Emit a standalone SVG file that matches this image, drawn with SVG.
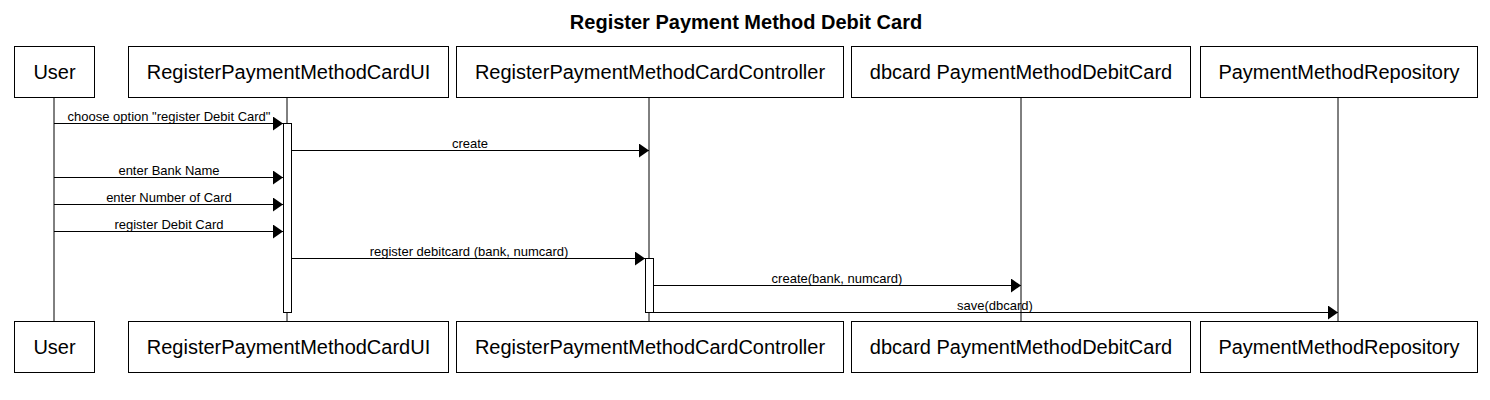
<svg xmlns="http://www.w3.org/2000/svg" width="1490" height="400" viewBox="0 0 1490 400">
<defs>
<marker id="arr" viewBox="0 0 10 14" refX="10" refY="7" markerWidth="10" markerHeight="14" markerUnits="userSpaceOnUse" orient="auto">
<path d="M0,0 L10,7 L0,14 Z" fill="#000"/>
</marker>
</defs>
<style>
.box{fill:#fff;stroke:#000;stroke-width:1}
.bt{font-family:"Liberation Sans",Arial,sans-serif;font-size:20px;text-anchor:middle;fill:#000}
.life{stroke:#000;stroke-width:1;fill:none}
.act{fill:#fff;stroke:#000;stroke-width:1}
.msg{stroke:#000;stroke-width:1;fill:none;marker-end:url(#arr)}
.ml{font-family:"Liberation Sans",Arial,sans-serif;font-size:13px;text-anchor:middle;fill:#000}
.title{font-family:"Liberation Sans",Arial,sans-serif;font-size:20px;font-weight:bold;text-anchor:middle;fill:#000}
</style>
<rect width="1490" height="400" fill="#fff"/>
<text class="title" x="746" y="29">Register Payment Method Debit Card</text>
<g id="lifelines">
<line class="life" x1="54" y1="97" x2="54" y2="321"/>
<line class="life" x1="287" y1="97" x2="287" y2="321"/>
<line class="life" x1="649" y1="97" x2="649" y2="321"/>
<line class="life" x1="1021" y1="97" x2="1021" y2="321"/>
<line class="life" x1="1338" y1="97" x2="1338" y2="321"/>
</g>
<g id="user">
<rect class="box" x="14.5" y="46.5" width="80" height="51"/>
<text class="bt" x="54.5" y="79">User</text>
<rect class="box" x="14.5" y="321.5" width="80" height="51"/>
<text class="bt" x="54.5" y="354">User</text>
</g>
<g id="ui">
<rect class="box" x="128.5" y="46.5" width="320" height="51"/>
<text class="bt" x="288.5" y="79">RegisterPaymentMethodCardUI</text>
<rect class="box" x="128.5" y="321.5" width="320" height="51"/>
<text class="bt" x="288.5" y="354">RegisterPaymentMethodCardUI</text>
<rect class="act" x="283.5" y="123.5" width="8" height="189"/>
</g>
<g id="controller">
<rect class="box" x="456.5" y="46.5" width="387" height="51"/>
<text class="bt" x="650" y="79">RegisterPaymentMethodCardController</text>
<rect class="box" x="456.5" y="321.5" width="387" height="51"/>
<text class="bt" x="650" y="354">RegisterPaymentMethodCardController</text>
<rect class="act" x="645.5" y="258.5" width="8" height="54"/>
</g>
<g id="dbcard">
<rect class="box" x="851.5" y="46.5" width="339" height="51"/>
<text class="bt" x="1021" y="79">dbcard PaymentMethodDebitCard</text>
<rect class="box" x="851.5" y="321.5" width="339" height="51"/>
<text class="bt" x="1021" y="354">dbcard PaymentMethodDebitCard</text>
</g>
<g id="repository">
<rect class="box" x="1200.5" y="46.5" width="277" height="51"/>
<text class="bt" x="1339" y="79">PaymentMethodRepository</text>
<rect class="box" x="1200.5" y="321.5" width="277" height="51"/>
<text class="bt" x="1339" y="354">PaymentMethodRepository</text>
</g>
<g id="connectors">
<line class="msg" x1="54" y1="123.5" x2="283" y2="123.5"/>
<text class="ml" x="169" y="121">choose option "register Debit Card"</text>
<line class="msg" x1="291" y1="150.5" x2="649" y2="150.5"/>
<text class="ml" x="470" y="148">create</text>
<line class="msg" x1="54" y1="177.5" x2="283" y2="177.5"/>
<text class="ml" x="169" y="175">enter Bank Name</text>
<line class="msg" x1="54" y1="204.5" x2="283" y2="204.5"/>
<text class="ml" x="169" y="202">enter Number of Card</text>
<line class="msg" x1="54" y1="231.5" x2="283" y2="231.5"/>
<text class="ml" x="169" y="229">register Debit Card</text>
<line class="msg" x1="291" y1="258.5" x2="645" y2="258.5"/>
<text class="ml" x="469" y="256">register debitcard (bank, numcard)</text>
<line class="msg" x1="653" y1="285.5" x2="1021" y2="285.5"/>
<text class="ml" x="837" y="283">create(bank, numcard)</text>
<line class="msg" x1="653" y1="312.5" x2="1338" y2="312.5"/>
<text class="ml" x="995" y="310">save(dbcard)</text>
</g>
</svg>
